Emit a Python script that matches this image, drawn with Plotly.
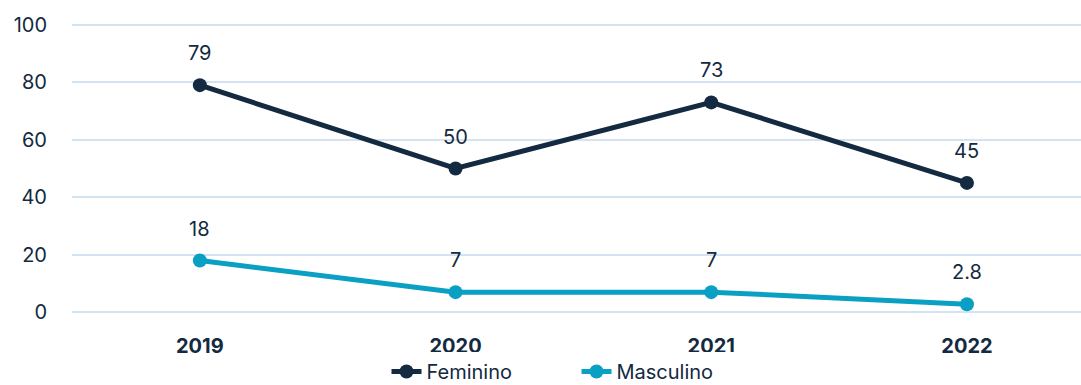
import plotly.graph_objects as go

years = ["2019", "2020", "2021", "2022"]
feminino = [79, 50, 73, 45]
masculino = [18, 7, 7, 2.8]
y_ticks = [0, 20, 40, 60, 80, 100]

navy = "#132a40"
teal = "#0aa0c4"
grid = "#d3e3f1"
font_family = "Inter, 'Open Sans', sans-serif"

fig = go.Figure()
fig.add_trace(go.Scatter(
    x=years, y=feminino, name="Feminino", mode="lines+markers",
    line=dict(color=navy, width=5), marker=dict(color=navy, size=14),
))
fig.add_trace(go.Scatter(
    x=years, y=masculino, name="Masculino", mode="lines+markers",
    line=dict(color=teal, width=5), marker=dict(color=teal, size=14),
))

# value labels above each point (category index as x position)
for series in (feminino, masculino):
    for i, yv in enumerate(series):
        fig.add_annotation(
            x=i, y=yv, xref="x", yref="y", text=f"{yv:g}", showarrow=False, yshift=32,
            font=dict(size=20, color=navy, family=font_family),
        )

fig.update_layout(
    width=1081, height=385,
    margin=dict(l=72, r=0, t=19, b=67, autoexpand=False),
    paper_bgcolor="white", plot_bgcolor="white",
    font=dict(family=font_family, color=navy, size=20),
    showlegend=True,
    legend=dict(
        orientation="h", x=0.5, xanchor="center",
        yref="container", y=0.035, yanchor="middle",
        font=dict(size=20, color=navy), tracegroupgap=0,
        entrywidth=145, entrywidthmode="pixels",
    ),
)
fig.update_xaxes(
    type="category", range=[-0.5, 3.446], showgrid=False, zeroline=False,
    showline=False, ticks="", tickfont=dict(size=20, color=navy, family=font_family, weight="bold"),
    ticklabelstandoff=14,
)
fig.update_yaxes(
    range=[-2, 102], tickvals=y_ticks, showgrid=True, gridcolor=grid, gridwidth=2,
    zeroline=False, showline=False, ticks="", tickfont=dict(size=20, color=navy),
    ticklabelstandoff=24,
)

fig.write_html("out.html")
